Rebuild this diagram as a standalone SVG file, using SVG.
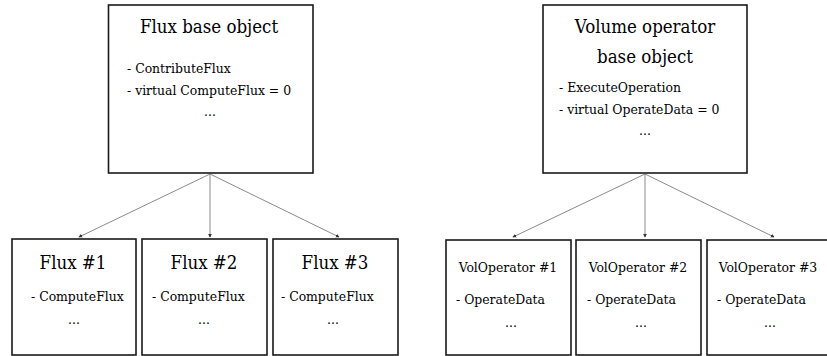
<svg xmlns="http://www.w3.org/2000/svg" width="827" height="356" viewBox="0 0 827 356">
<defs>
<style>
.box{fill:#fff;stroke:#1a1a1a;stroke-width:1.6}
text{font-family:'DejaVu Serif',serif;font-stretch:condensed;fill:#000}
.ttl{font-size:18.5px;text-anchor:middle}
.sub{font-size:13.8px}
.dots{font-size:13.8px;text-anchor:middle}
.conn{stroke:#8a8a8a;stroke-width:1;fill:none;marker-end:url(#ah)}
</style>
<marker id="ah" viewBox="0 0 6 6" refX="5" refY="3" markerWidth="4" markerHeight="4" orient="auto" markerUnits="userSpaceOnUse">
<path d="M0,0 L6,3 L0,6 z" fill="#333"/>
</marker>
</defs>
<rect width="827" height="356" fill="#fff"/>
<g id="connectors">
<line class="conn" x1="210" y1="174" x2="79" y2="237"/>
<line class="conn" x1="210" y1="174" x2="210" y2="237"/>
<line class="conn" x1="210" y1="174" x2="339" y2="237"/>
<line class="conn" x1="645" y1="174" x2="513" y2="237"/>
<line class="conn" x1="645" y1="174" x2="645" y2="237"/>
<line class="conn" x1="645" y1="174" x2="774" y2="237"/>
</g>
<g id="flux-base">
<rect class="box" x="108.5" y="5" width="204.5" height="168"/>
<text class="ttl" x="209" y="33">Flux base object</text>
<text class="sub" x="127" y="73">- ContributeFlux</text>
<text class="sub" x="127" y="95">- virtual ComputeFlux = 0</text>
<text class="dots" x="210" y="116">...</text>
</g>
<g id="flux1">
<rect class="box" x="12" y="239" width="124" height="116"/>
<text class="ttl" x="73" y="269">Flux #1</text>
<text class="sub" x="31" y="301">- ComputeFlux</text>
<text class="dots" x="74" y="324">...</text>
</g>
<g id="flux2">
<rect class="box" x="142" y="239" width="125" height="116"/>
<text class="ttl" x="204" y="269">Flux #2</text>
<text class="sub" x="152" y="301">- ComputeFlux</text>
<text class="dots" x="204" y="324">...</text>
</g>
<g id="flux3">
<rect class="box" x="273" y="239" width="125" height="116"/>
<text class="ttl" x="335" y="269">Flux #3</text>
<text class="sub" x="281" y="301">- ComputeFlux</text>
<text class="dots" x="333" y="324">...</text>
</g>
<g id="vol-base">
<rect class="box" x="543" y="5" width="204" height="168"/>
<text class="ttl" x="645" y="33">Volume operator</text>
<text class="ttl" x="645" y="63">base object</text>
<text class="sub" x="559" y="92">- ExecuteOperation</text>
<text class="sub" x="559" y="114">- virtual OperateData = 0</text>
<text class="dots" x="645" y="135">...</text>
</g>
<g id="vol1">
<rect class="box" x="446" y="240" width="125" height="115"/>
<text class="sub" x="508" y="272" text-anchor="middle">VolOperator #1</text>
<text class="sub" x="456" y="304">- OperateData</text>
<text class="dots" x="511" y="327">...</text>
</g>
<g id="vol2">
<rect class="box" x="576" y="240" width="125" height="115"/>
<text class="sub" x="638" y="272" text-anchor="middle">VolOperator #2</text>
<text class="sub" x="587" y="304">- OperateData</text>
<text class="dots" x="641" y="327">...</text>
</g>
<g id="vol3">
<rect class="box" x="707" y="240" width="125" height="115"/>
<text class="sub" x="768" y="272" text-anchor="middle">VolOperator #3</text>
<text class="sub" x="717" y="304">- OperateData</text>
<text class="dots" x="770" y="327">...</text>
</g>
</svg>
